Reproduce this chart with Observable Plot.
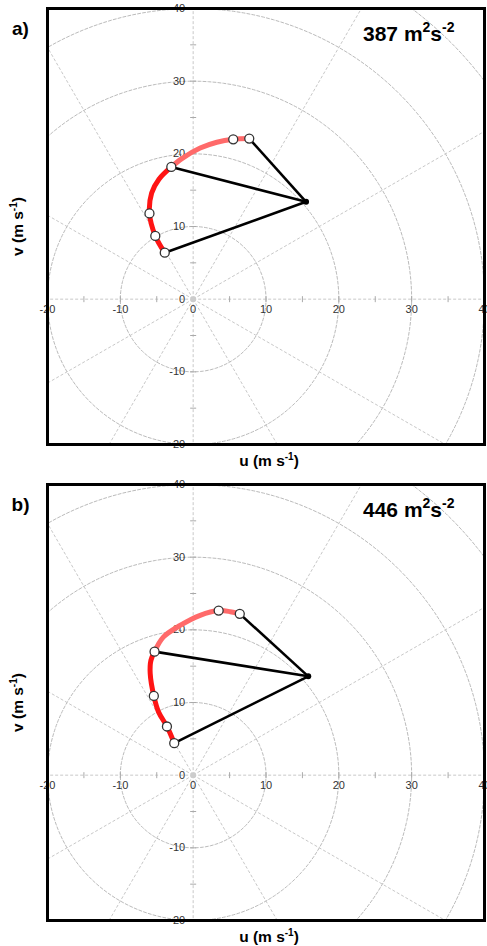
<!DOCTYPE html>
<html><head><meta charset="utf-8">
<script src="https://cdn.jsdelivr.net/npm/d3@7"></script>
<script src="https://cdn.jsdelivr.net/npm/@observablehq/plot@0.6"></script>
<style>body{margin:0;background:#fff} #chart svg{display:block}</style>
</head><body><div id="chart"></div>
<script>
// ---- shared axis / grid data ----
const tickLabels = [-20, -10, 0, 10, 20, 30, 40];
const minorTicks = [-20, -15, -10, -5, 5, 10, 15, 20, 25, 30, 35, 40];
const ringRadii = [10, 20, 30, 40, 50, 60];
const spokeAngles = [0, 30, 60, 90, 120, 150, 180, 210, 240, 270, 300, 330];
const panelLabels = ["a)", "b)"];
const capeValues = [387, 446];
const xTitle = "u (m s";
const yTitle = "v (m s";

// ---- panel a ----
const curveLowerA = [
  {u: -3.9, v: 6.4}, {u: -5.2, v: 8.7}, {u: -6.0, v: 11.8}, {u: -5.7, v: 14.6},
  {u: -4.7, v: 16.5}, {u: -3.0, v: 18.2}
];
const curveUpperA = [
  {u: -3.0, v: 18.2}, {u: -1.55, v: 19.35}, {u: 0.96, v: 20.8}, {u: 3.25, v: 21.6},
  {u: 5.5, v: 22.0}, {u: 7.7, v: 22.1}
];
const markersA = [
  {u: -3.9, v: 6.4}, {u: -5.2, v: 8.7}, {u: -6.0, v: 11.8},
  {u: -3.0, v: 18.2}, {u: 5.5, v: 22.0}, {u: 7.7, v: 22.1}
];
const linkedA = [{u: -3.9, v: 6.4}, {u: -3.0, v: 18.2}, {u: 7.7, v: 22.1}];
const stormA = [{u: 15.5, v: 13.4}];

// ---- panel b ----
const curveLowerB = [
  {u: -2.6, v: 4.4}, {u: -3.6, v: 6.7}, {u: -4.75, v: 8.7}, {u: -5.4, v: 10.9},
  {u: -5.9, v: 14.0}, {u: -5.8, v: 15.8}, {u: -5.3, v: 17.0}
];
const curveUpperB = [
  {u: -5.3, v: 17.0}, {u: -4.1, v: 19.0}, {u: -1.8, v: 20.6}, {u: 0.96, v: 22.0},
  {u: 3.5, v: 22.65}, {u: 5.1, v: 22.5}, {u: 6.4, v: 22.2}
];
const markersB = [
  {u: -2.6, v: 4.4}, {u: -3.6, v: 6.7}, {u: -5.4, v: 10.9},
  {u: -5.3, v: 17.0}, {u: 3.5, v: 22.65}, {u: 6.4, v: 22.2}
];
const linkedB = [{u: -2.6, v: 4.4}, {u: -5.3, v: 17.0}, {u: 6.4, v: 22.2}];
const stormB = [{u: 15.8, v: 13.6}];

const FONT = "'Liberation Sans', Arial, sans-serif";

// grid geometry built from the radii / angles lists
const ringPoints = ringRadii.flatMap(r => d3.range(0, 361, 2).map(a => ({r, u: r * Math.cos(a * Math.PI / 180), v: r * Math.sin(a * Math.PI / 180)})));
const spokes = spokeAngles.map(a => ({u: 90 * Math.cos(a * Math.PI / 180), v: 90 * Math.sin(a * Math.PI / 180)}));

const vTick = {draw(ctx, size) { const r = Math.sqrt(size / Math.PI); ctx.moveTo(0, -r); ctx.lineTo(0, r); }};
const hTick = {draw(ctx, size) { const r = Math.sqrt(size / Math.PI); ctx.moveTo(-r, 0); ctx.lineTo(r, 0); }};

function panel(i, lower, upper, markers, linked, storm, height, marginBottom) {
  const s = storm[0];
  const plot = Plot.plot({
    width: 487, height,
    marginLeft: 47, marginRight: 3, marginTop: 8, marginBottom,
    x: {domain: [-20, 40], axis: null},
    y: {domain: [-20, 40], axis: null},
    style: {fontFamily: FONT, background: "white", overflow: "visible"},
    marks: [
      Plot.line(ringPoints, {x: "u", y: "v", z: "r", stroke: "#bbbbbb", strokeWidth: 1, strokeDasharray: "3,2", clip: true}),
      Plot.link(spokes, {x1: () => 0, y1: () => 0, x2: "u", y2: "v", stroke: "#c8c8c8", strokeWidth: 1, strokeDasharray: "3,2", clip: true}),
      Plot.dot(minorTicks, {x: d => d, y: () => 0, symbol: vTick, r: 3, stroke: "#aaa", strokeWidth: 1}),
      Plot.dot(minorTicks, {x: () => 0, y: d => d, symbol: hTick, r: 3, stroke: "#aaa", strokeWidth: 1}),
      Plot.dot([0], {x: () => 0, y: () => 0, r: 3, fill: "#ccc"}),
      Plot.text(tickLabels, {x: d => d, y: () => 0, text: d => String(d), lineAnchor: "top", dy: 6, fill: "#333", fontSize: 11}),
      Plot.text(tickLabels, {x: () => 0, y: d => d, text: d => String(d), textAnchor: "end", dx: -8, fill: "#333", fontSize: 11}),
      Plot.line(lower, {x: "u", y: "v", stroke: "#ff1414", strokeWidth: 5, curve: "catmull-rom", strokeLinecap: "round"}),
      Plot.line(upper, {x: "u", y: "v", stroke: "#ff6a6a", strokeWidth: 5, curve: "catmull-rom", strokeLinecap: "round"}),
      Plot.link(linked, {x1: () => s.u, y1: () => s.v, x2: "u", y2: "v", stroke: "black", strokeWidth: 2.6}),
      Plot.dot(markers, {x: "u", y: "v", r: 4.5, fill: "white", stroke: "#333", strokeWidth: 1.3}),
      Plot.dot(storm, {x: "u", y: "v", r: 3, fill: "black"}),
      Plot.frame({stroke: "black", strokeWidth: 3}),
      Plot.text([panelLabels[i]], {frameAnchor: "top-left", text: d => d, dx: -27, dy: 13, fontSize: 19, fontWeight: "bold", fill: "black", textAnchor: "middle"}),
      Plot.text([capeValues[i]], {frameAnchor: "top-right", text: d => String(d), dx: -30, dy: 32, lineAnchor: "bottom", textAnchor: "end", fontSize: 21, fontWeight: "bold", fill: "black"}),
      Plot.text([xTitle], {frameAnchor: "bottom", text: d => d, dx: 3, dy: 21, lineAnchor: "bottom", textAnchor: "middle", fontSize: 15.5, fontWeight: "bold", fill: "black"}),
      Plot.text([yTitle], {frameAnchor: "left", text: d => d, dx: -29, rotate: -90, lineAnchor: "middle", textAnchor: "middle", fontSize: 15.5, fontWeight: "bold", fill: "black"})
    ]
  });
  d3.select(plot).selectAll("text").each(function() {
    const t = d3.select(this); const v = t.text();
    if (v === String(capeValues[i])) {
      t.text(null);
      t.append("tspan").text(v + " m");
      t.append("tspan").attr("font-size", 14).attr("dy", -9).text("2");
      t.append("tspan").attr("font-size", 21).attr("dy", 9).text("s");
      t.append("tspan").attr("font-size", 14).attr("dy", -9).text("-2");
    } else if (v === xTitle || v === yTitle) {
      t.text(null);
      t.append("tspan").text(v);
      t.append("tspan").attr("font-size", 10).attr("dy", -6).text("-1");
      t.append("tspan").attr("font-size", 15.5).attr("dy", 6).text(")");
    }
  });
  return plot;
}

const root = document.getElementById("chart");
root.append(panel(0, curveLowerA, curveUpperA, markersA, linkedA, stormA, 476, 32));
root.append(panel(1, curveLowerB, curveUpperB, markersB, linkedB, stormB, 470, 26));
</script>
</body></html>
